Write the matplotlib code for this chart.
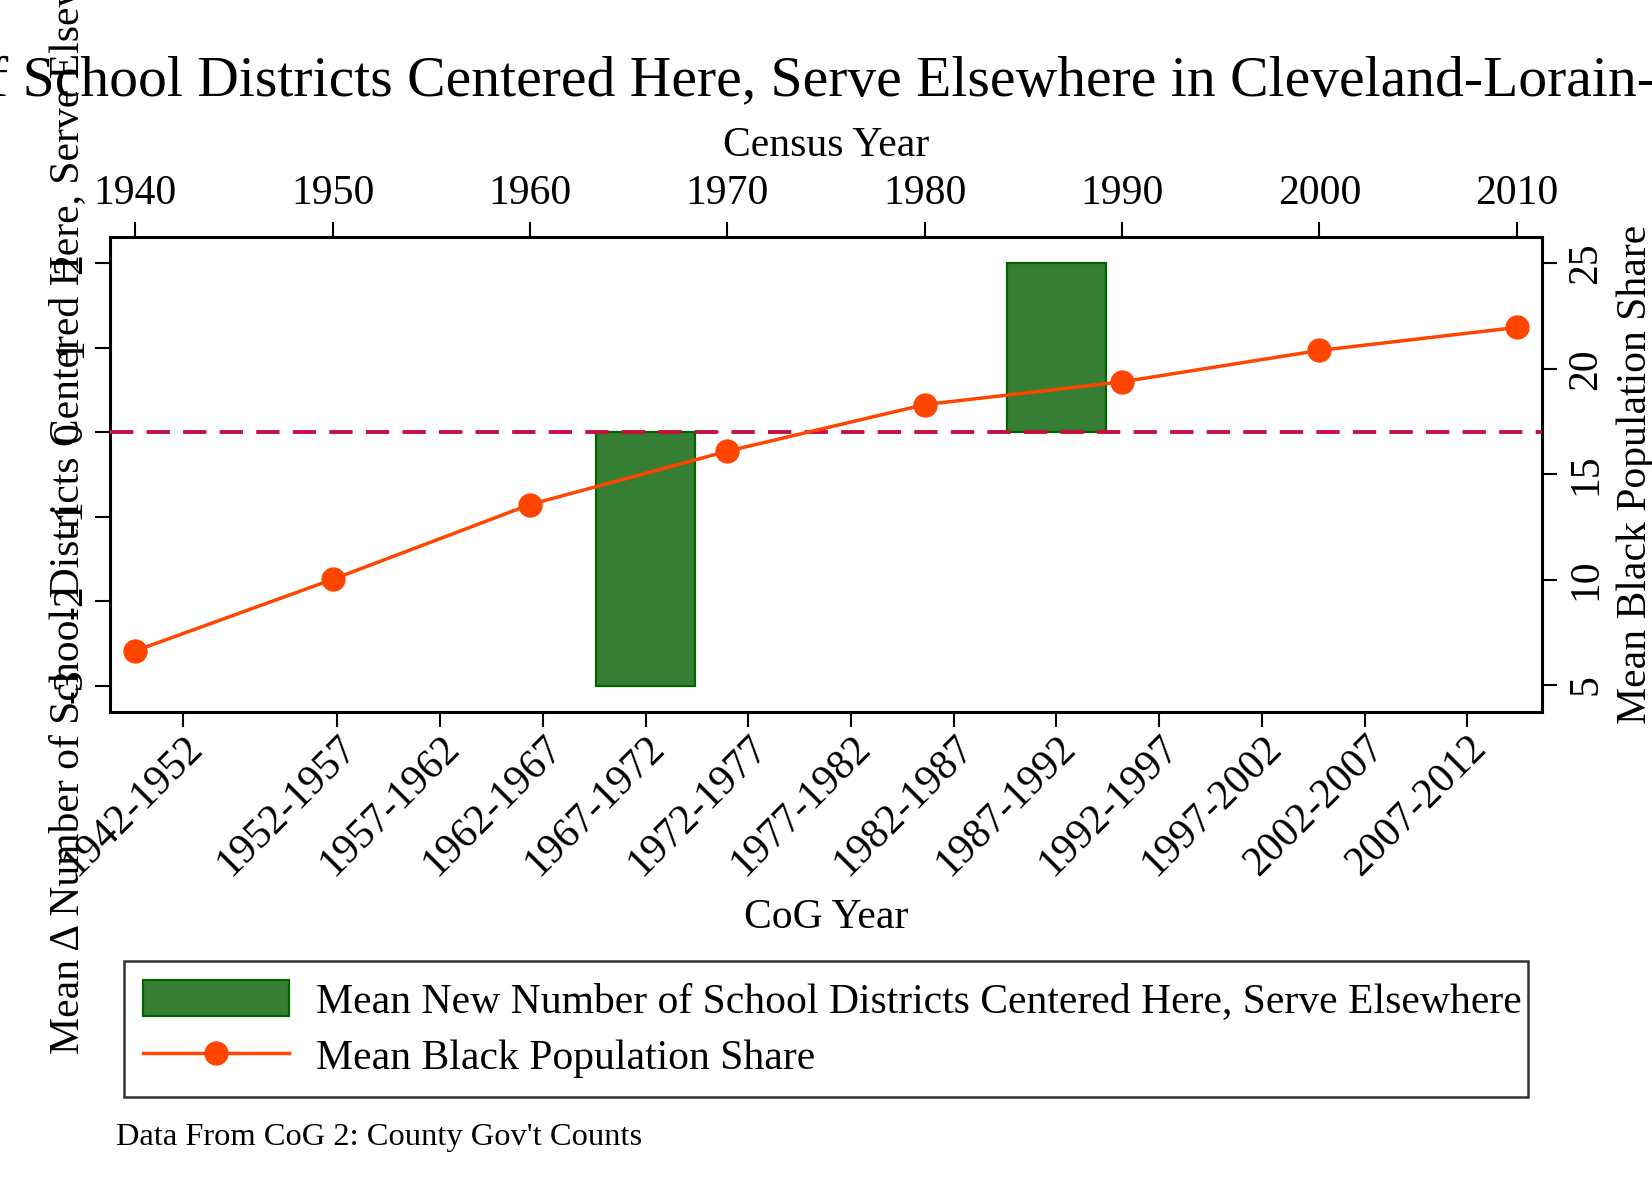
import numpy as np
import matplotlib
matplotlib.use("Agg")
import matplotlib.pyplot as plt
import matplotlib.transforms as mtransforms
from matplotlib.patches import Patch
from matplotlib.lines import Line2D

plt.rcParams['font.family'] = ['Liberation Serif', 'DejaVu Serif']

# CoG periods (bottom axis) and mean change in districts
cog_labels = ['1942-1952', '1952-1957', '1957-1962', '1962-1967', '1967-1972',
              '1972-1977', '1977-1982', '1982-1987', '1987-1992', '1992-1997',
              '1997-2002', '2002-2007', '2007-2012']
cog_mid = [1947, 1954.5, 1959.5, 1964.5, 1969.5, 1974.5, 1979.5, 1984.5,
           1989.5, 1994.5, 1999.5, 2004.5, 2009.5]
new_districts = [np.nan, np.nan, np.nan, np.nan, -3, np.nan, np.nan, np.nan,
                 2, np.nan, np.nan, np.nan, np.nan]

# census years (top axis) and black population share
census_years = [1940, 1950, 1960, 1970, 1980, 1990, 2000, 2010]
black_share = [6.62, 10.01, 13.56, 16.09, 18.30, 19.38, 20.87, 21.96]

W, H = 1652, 1201
fig = plt.figure(figsize=(W / 100, H / 100), dpi=100)
fig.patch.set_facecolor('white')

# axes box in pixels
x0, x1, y0, y1 = 110, 1542, 237, 712
pos = [x0 / W, 1 - y1 / H, (x1 - x0) / W, (y1 - y0) / H]
ax = fig.add_axes(pos)
ax2 = fig.add_axes(pos, frameon=False)

fs = 30
green = '#367e34'
orange = '#ff4500'

ax.bar(cog_mid, new_districts, width=4.85, color=green, edgecolor='#006400',
       linewidth=1.6, zorder=2)
ax.axhline(0, color='#c8103f', lw=2.8, dashes=(6, 3.4), zorder=3)
ax.set_xlim(1943.43, 2013.14)
ax.set_ylim(-3.31, 2.31)
ax.set_xticks(cog_mid)
ax.set_xticklabels(cog_labels, rotation=45, ha='right', va='top',
                   rotation_mode='anchor', fontsize=fs)
shift = mtransforms.ScaledTranslation(14 / 100, 0, fig.dpi_scale_trans)
for lab in ax.get_xticklabels():
    lab.set_transform(lab.get_transform() + shift)
ax.set_yticks([-3, -2, -1, 0, 1, 2])
ax.set_yticklabels(['-3', '-2', '-1', '0', '1', '2'], rotation=90, va='center',
                   fontsize=fs)
ax.tick_params(axis='x', length=11, width=1.5, pad=1)
ax.tick_params(axis='y', length=11, width=1.5, pad=3)
for s in ax.spines.values():
    s.set_linewidth(2.2)
ax.set_xlabel('CoG Year', fontsize=fs)
ax.xaxis.set_label_coords(0.5, -(918 - y1) / (y1 - y0))
ax.xaxis.label.set_va('center')

ax2.plot(census_years, black_share, color=orange, lw=2.5, marker='o',
         markersize=16.5, zorder=4)
ax2.set_xlim(1938.72, 2011.28)
ax2.set_ylim(3.72, 26.25)
ax2.xaxis.tick_top()
ax2.xaxis.set_label_position('top')
ax2.yaxis.tick_right()
ax2.yaxis.set_label_position('right')
ax2.set_xticks(census_years)
ax2.set_xticklabels([str(y) for y in census_years], fontsize=fs)
ax2.set_yticks([5, 10, 15, 20, 25])
ax2.set_yticklabels(['5', '10', '15', '20', '25'], rotation=90, va='center',
                    fontsize=fs)
ax2.tick_params(axis='x', length=11, width=1.5, pad=6)
ax2.tick_params(axis='y', length=11, width=1.5, pad=7)
ax2.set_xlabel('Census Year', fontsize=fs)
ax2.xaxis.set_label_coords(0.5, 1 + (y0 - 146) / (y1 - y0))
ax2.xaxis.label.set_va('center')
ax2.set_ylabel('Mean Black Population Share', fontsize=fs)
ax2.yaxis.set_label_coords((1636 - x0) / (x1 - x0), 0.5)
ax2.yaxis.label.set_ha('center')
ax2.yaxis.label.set_va('center')

# title and left label (both run off the figure like the original)
fig.text(-434 / W, 1 - 82 / H,
         'Mean \u0394 Number of School Districts Centered Here, Serve Elsewhere in Cleveland-Lorain-Elyria, OH',
         fontsize=41.5, ha='left', va='center')
fig.text(68 / W, 1 - 1054 / H,
         'Mean \u0394 Number of School Districts Centered Here, Serve Elsewhere',
         fontsize=fs, rotation=90, ha='center', va='bottom')

handles = [Patch(facecolor=green, edgecolor='#006400', linewidth=1.6),
           Line2D([], [], color=orange, lw=2.5, marker='o', markersize=16.5)]
labels = ['Mean New Number of School Districts Centered Here, Serve Elsewhere',
          'Mean Black Population Share']
leg = fig.legend(handles, labels, loc='upper left',
                 bbox_to_anchor=(124 / W, 1 - 961 / H, (1528 - 124) / W, 0.0),
                 mode='expand', fontsize=fs, frameon=True, fancybox=False,
                 edgecolor='black', handlelength=3.5, handleheight=0.95,
                 handletextpad=0.65, labelspacing=0.38, borderpad=0.45,
                 borderaxespad=0, numpoints=1)
leg.get_frame().set_linewidth(1.8)

fig.text(116 / W, 1 - 1137 / H, "Data From CoG 2: County Gov't Counts",
         fontsize=23.4, ha='left', va='center')

fig.savefig('out.png', dpi=100)
